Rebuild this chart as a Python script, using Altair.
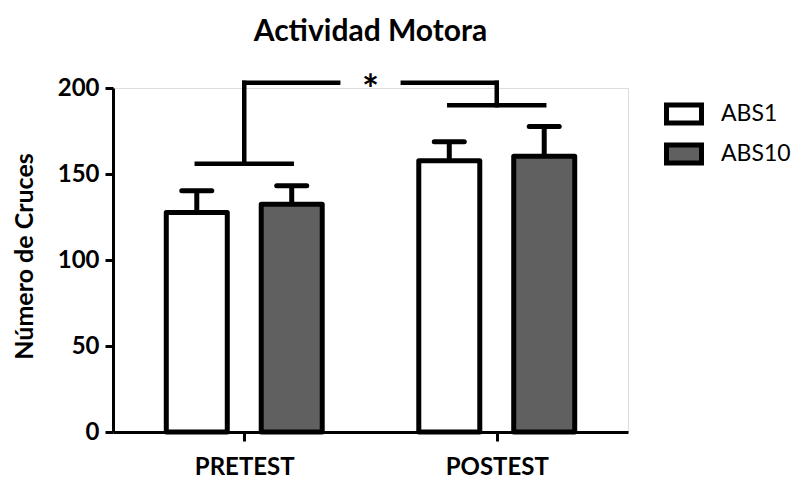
import altair as alt
import pandas as pd

# Groups, series and measured values (mean number of crossings and upper error)
groups = ["PRETEST", "POSTEST"]
series = ["ABS1", "ABS10"]
abs1_mean = [127.6, 157.7]
abs10_mean = [132.4, 160.3]
abs1_err = [12.6, 11.0]
abs10_err = [10.7, 17.3]
fills = ["white", "#606060"]

# Significance bracket segments (x in group units, y in crossings)
seg_x = [0.812, 1.0, 1.0, 1.628, 2.0, 1.812]
seg_x2 = [1.188, 1.0, 1.372, 2.0, 2.0, 2.188]
seg_y = [156, 156, 203, 203, 203, 190]
seg_y2 = [156, 203, 203, 203, 190, 190]
star_x = [1.5]
star_y = [203]

FONT = "Lato"
OFFSET = 0.188  # horizontal shift of each series inside a group

rows = []
for gi, g in enumerate(groups):
    for si, (s, m, e) in enumerate(zip(series, [abs1_mean, abs10_mean], [abs1_err, abs10_err])):
        rows.append({
            "group": g,
            "series": s,
            "pos": gi + 1 + (-OFFSET if si == 0 else OFFSET),
            "mean": m[gi],
            "upper": m[gi] + e[gi],
        })
df = pd.DataFrame(rows)
seg_df = pd.DataFrame({"x": seg_x, "x2": seg_x2, "y": seg_y, "y2": seg_y2})
star_df = pd.DataFrame({"x": star_x, "y": star_y})

label_expr = "[" + ",".join(f"'{g}'" for g in groups) + "][datum.value - 1]"

x_scale = alt.Scale(domain=[0.5, 2.5], nice=False, zero=False)
y_scale = alt.Scale(domain=[0, 200], nice=False)

x_enc = alt.X(
    "pos:Q",
    scale=x_scale,
    axis=alt.Axis(
        values=[1, 2], labelExpr=label_expr, title=None, grid=False,
        tickSize=9, tickWidth=3, domainWidth=3, labelPadding=14,
        labelFontSize=24, labelFontWeight="bold", labelFont=FONT,
        labelColor="black", domainColor="black", tickColor="black",
    ),
)
y_enc = alt.Y(
    "mean:Q",
    scale=y_scale,
    axis=alt.Axis(
        values=[0, 50, 100, 150, 200], title="Número de Cruces", grid=False,
        tickSize=8, tickWidth=3, domainWidth=3, labelPadding=6,
        labelFontSize=24, labelFontWeight="bold", labelFont=FONT,
        labelColor="black", domainColor="black", tickColor="black",
        titleFont=FONT, titleFontSize=25, titleFontWeight="bold",
        titleColor="black", titlePadding=20, titleY=168,
    ),
)

base = alt.Chart(df)

bars = base.mark_bar(size=61, stroke="black", strokeWidth=5, strokeJoin="round").encode(
    x=x_enc,
    y=y_enc,
    y2=alt.datum(0),
    fill=alt.Fill(
        "series:N",
        scale=alt.Scale(domain=series, range=fills),
        legend=alt.Legend(
            title=None, orient="none", legendX=551, legendY=6,
            symbolType="M-1,-0.52H1V0.52H-1Z", symbolSize=1225,
            symbolStrokeColor="black", symbolStrokeWidth=5, symbolOpacity=1,
            labelFont=FONT, labelFontSize=23, labelColor="black",
            labelOffset=17, rowPadding=0,
        ),
    ),
)

stems = base.mark_rule(color="black", strokeWidth=5).encode(
    x="pos:Q", y="mean:Q", y2="upper:Q"
)
caps = base.mark_rule(
    color="black", strokeWidth=5, strokeCap="round", xOffset=-15, x2Offset=15
).encode(x="pos:Q", x2="pos:Q", y="upper:Q")

brackets = alt.Chart(seg_df).mark_rule(
    color="black", strokeWidth=4.5, strokeCap="square"
).encode(x="x:Q", x2="x2:Q", y="y:Q", y2="y2:Q")

star = alt.Chart(star_df).mark_text(
    text="*", font=FONT, fontSize=40, fontWeight="bold", color="black",
    baseline="middle", dy=9,
).encode(x="x:Q", y="y:Q")

chart = (
    alt.layer(bars, stems, caps, brackets, star)
    .properties(
        width=515,
        height=344,
        title=alt.TitleParams(
            "Actividad Motora", font=FONT, fontSize=30, fontWeight="bold",
            color="black", anchor="middle", frame="group", offset=25,
        ),
        autosize=alt.AutoSizeParams(type="none"),
        padding={"left": 113, "top": 88, "right": 170, "bottom": 48},
    )
    .configure_view(stroke=None)
    .configure(background="white")
)

chart.save("out.html", embed_options={"renderer": "svg", "actions": False})
